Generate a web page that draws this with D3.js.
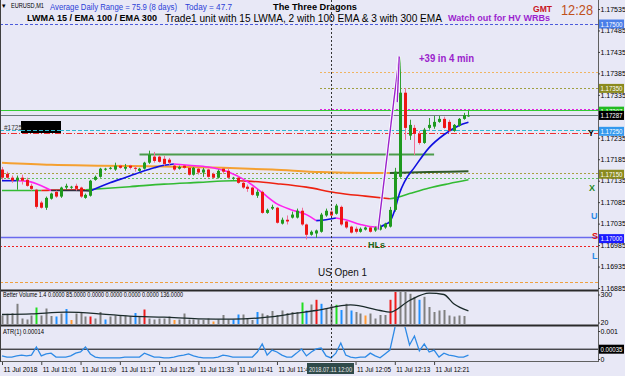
<!DOCTYPE html>
<html>
<head>
<meta charset="utf-8">
<title>EURUSD,M1 - The Three Dragons</title>
<script src="https://cdnjs.cloudflare.com/ajax/libs/d3/7.8.5/d3.min.js"></script>
<style>
  body { margin: 0; background: #e8e8f6; }
  svg { display: block; font-family: "Liberation Sans", Arial, sans-serif; }
</style>
</head>
<body>
<script>
// ---- data (1 minute bars, 10:53 .. 12:28) ----
var timeLabels = ["11 Jul 2018", "11 Jul 11:01", "11 Jul 11:09", "11 Jul 11:17", "11 Jul 11:25", "11 Jul 11:33",
                  "11 Jul 11:41", "11 Jul 11:49", "11 Jul 12:05", "11 Jul 12:13", "11 Jul 12:21"];
var timeTickBars = [0, 8, 16, 24, 32, 40, 48, 56, 72, 80, 88];

var priceTicks = [1.16885, 1.16935, 1.16985, 1.17035, 1.17085, 1.17135, 1.17185, 1.17235,
                  1.17335, 1.17385, 1.17435, 1.17485, 1.17535];

// open, high, low, close
var ohlc = [
  [1.17161, 1.17167, 1.17137, 1.17142], [1.17151, 1.17156, 1.17140, 1.17142], [1.17142, 1.17147, 1.17130, 1.17135],
  [1.17135, 1.17147, 1.17114, 1.17142], [1.17142, 1.17149, 1.17126, 1.17135], [1.17137, 1.17142, 1.17121, 1.17123],
  [1.17123, 1.17128, 1.17112, 1.17116], [1.17114, 1.17116, 1.17070, 1.17074], [1.17084, 1.17088, 1.17070, 1.17072],
  [1.17072, 1.17098, 1.17067, 1.17095], [1.17093, 1.17107, 1.17091, 1.17105], [1.17109, 1.17112, 1.17095, 1.17098],
  [1.17098, 1.17121, 1.17095, 1.17119], [1.17119, 1.17128, 1.17114, 1.17123], [1.17119, 1.17123, 1.17116, 1.17121],
  [1.17123, 1.17128, 1.17112, 1.17116], [1.17119, 1.17121, 1.17095, 1.17098], [1.17095, 1.17105, 1.17093, 1.17102],
  [1.17100, 1.17137, 1.17098, 1.17135], [1.17137, 1.17147, 1.17135, 1.17144], [1.17144, 1.17165, 1.17142, 1.17163],
  [1.17161, 1.17165, 1.17158, 1.17163], [1.17163, 1.17167, 1.17161, 1.17165], [1.17161, 1.17177, 1.17158, 1.17170],
  [1.17170, 1.17172, 1.17163, 1.17165], [1.17163, 1.17174, 1.17158, 1.17167], [1.17170, 1.17172, 1.17161, 1.17165],
  [1.17165, 1.17170, 1.17156, 1.17163], [1.17158, 1.17165, 1.17156, 1.17163], [1.17163, 1.17179, 1.17161, 1.17177],
  [1.17177, 1.17205, 1.17174, 1.17195], [1.17191, 1.17202, 1.17177, 1.17181], [1.17191, 1.17195, 1.17177, 1.17179],
  [1.17186, 1.17193, 1.17170, 1.17174], [1.17184, 1.17188, 1.17172, 1.17177], [1.17170, 1.17172, 1.17158, 1.17161],
  [1.17163, 1.17170, 1.17161, 1.17167], [1.17170, 1.17172, 1.17163, 1.17165], [1.17165, 1.17167, 1.17147, 1.17149],
  [1.17149, 1.17167, 1.17147, 1.17165], [1.17163, 1.17165, 1.17149, 1.17154], [1.17154, 1.17165, 1.17144, 1.17161],
  [1.17161, 1.17163, 1.17142, 1.17144], [1.17151, 1.17154, 1.17140, 1.17142], [1.17142, 1.17161, 1.17140, 1.17158],
  [1.17163, 1.17165, 1.17151, 1.17156], [1.17158, 1.17165, 1.17140, 1.17142], [1.17140, 1.17144, 1.17137, 1.17142],
  [1.17142, 1.17144, 1.17128, 1.17130], [1.17130, 1.17133, 1.17116, 1.17119], [1.17121, 1.17126, 1.17109, 1.17116],
  [1.17119, 1.17121, 1.17100, 1.17102], [1.17100, 1.17114, 1.17095, 1.17109], [1.17109, 1.17112, 1.17058, 1.17060],
  [1.17060, 1.17070, 1.17058, 1.17067], [1.17070, 1.17079, 1.17067, 1.17074], [1.17072, 1.17074, 1.17035, 1.17037],
  [1.17035, 1.17049, 1.17033, 1.17044], [1.17044, 1.17054, 1.17033, 1.17040], [1.17049, 1.17063, 1.17047, 1.17056],
  [1.17049, 1.17070, 1.17047, 1.17065], [1.17065, 1.17072, 1.17030, 1.17033], [1.17033, 1.17035, 1.16998, 1.17009],
  [1.17009, 1.17019, 1.17007, 1.17016], [1.17012, 1.17021, 1.17002, 1.17019], [1.17016, 1.17060, 1.17014, 1.17056],
  [1.17054, 1.17070, 1.17051, 1.17065], [1.17063, 1.17072, 1.17051, 1.17054], [1.17058, 1.17081, 1.17056, 1.17077],
  [1.17074, 1.17077, 1.17030, 1.17033], [1.17040, 1.17042, 1.17023, 1.17026], [1.17028, 1.17030, 1.17012, 1.17014],
  [1.17023, 1.17028, 1.17012, 1.17016], [1.17016, 1.17026, 1.17014, 1.17023], [1.17021, 1.17028, 1.17019, 1.17026],
  [1.17026, 1.17028, 1.17014, 1.17016], [1.17019, 1.17028, 1.17016, 1.17026], [1.17021, 1.17033, 1.17019, 1.17028],
  [1.17026, 1.17037, 1.17023, 1.17035], [1.17028, 1.17074, 1.17026, 1.17067], [1.17067, 1.17165, 1.17063, 1.17156],
  [1.17144, 1.17423, 1.17142, 1.17340], [1.17340, 1.17351, 1.17230, 1.17258], [1.17240, 1.17277, 1.17230, 1.17265],
  [1.17258, 1.17265, 1.17195, 1.17244], [1.17244, 1.17251, 1.17219, 1.17223], [1.17223, 1.17258, 1.17221, 1.17254],
  [1.17258, 1.17281, 1.17254, 1.17265], [1.17261, 1.17286, 1.17256, 1.17272], [1.17272, 1.17286, 1.17270, 1.17279],
  [1.17279, 1.17284, 1.17256, 1.17258], [1.17272, 1.17277, 1.17249, 1.17251], [1.17251, 1.17267, 1.17249, 1.17265],
  [1.17263, 1.17281, 1.17261, 1.17279], [1.17279, 1.17293, 1.17277, 1.17288], [1.17286, 1.17298, 1.17284, 1.17287]
];

// moving averages as [bar, price]; state ranges give the colour
var lwma15 = [[0,1.17135],[3,1.17135],[5,1.17134],[7,1.17128],[9,1.17118],[10,1.17112],[12,1.17112],[15,1.17112],
  [18,1.17111],[19,1.17116],[22,1.17130],[25,1.17142],[28,1.17154],[31,1.17165],[33,1.17171],[35,1.17174],
  [38,1.17171],[42,1.17167],[46,1.17156],[50,1.17133],[53,1.17107],[56,1.17081],[59,1.17067],[62,1.17056],
  [64,1.17042],[66,1.17044],[68,1.17048],[70,1.17044],[73,1.17033],[76,1.17027],[77,1.17027],[78,1.17033],
  [79,1.17040],[80,1.17067],[81,1.17107],[82,1.17133],[84,1.17166],[87,1.17212],[90,1.17242],[93,1.17263],[95,1.17271]];
var lwmaStates = [[0,3,"up"],[3,10,"down"],[10,18,"flat"],[18,35,"up"],[35,64,"down"],[64,68,"up"],[68,77,"down"],[77,95,"up"]];

var ema100 = [[0,1.17112],[8,1.17112],[10,1.17113],[17,1.17114],[26,1.17121],[33,1.17127],[40,1.17131],[47,1.17135],
  [48,1.17135],[50,1.17134],[56,1.17128],[62,1.17120],[68,1.17107],[74,1.17099],[79,1.17093],[80,1.17095],
  [83,1.17105],[87,1.17118],[91,1.17128],[95,1.17137]];
var ema100States = [[0,8,"above"],[8,17,"below"],[17,48,"above"],[48,79,"below"],[79,95,"above"]];

var ema300 = [[0,1.17177],[10,1.17172],[20,1.17170],[33,1.17168],[45,1.17165],[55,1.17161],[65,1.17155],
  [75,1.17153],[79,1.17153],[87,1.17155],[95,1.17157]];
var ema300States = [[0,79,"below"],[79,95,"above"]];

// Better Volume
var volume = [90,107,113,207,60,50,90,170,90,160,85,80,110,155,45,110,125,80,80,60,125,50,80,90,85,90,85,115,85,150,
  60,50,60,60,80,45,50,110,50,50,50,45,60,30,50,95,50,50,100,100,65,45,125,110,95,135,95,140,115,125,125,220,140,200,
  247,207,155,190,197,145,207,140,125,110,90,110,60,95,95,247,400,400,400,307,277,247,277,175,125,140,145,90,80,90,85];
var volumeKind = "nnnnnnngnnnbnbonnnrnnbnnnnnbnrnnnnnonnnnnnnonnnbbnnnbnnnnnnnngbnrbnngbnbnnonnnnrrnnnnbnnnnnnnnnn";
var volumeMA = [[0,100],[6,107],[13,123],[20,107],[26,83],[33,73],[40,57],[47,53],[54,73],[60,113],[64,140],
  [71,197],[77,140],[79,123],[83,240],[87,313],[90,300],[92,207],[95,136]];

// ATR(1)
var atr = [0.00011,0.00007,0.00007,0.00011,0.00014,0.00011,0.00014,0.00043,0.00011,0.00018,
  0.00021,0.00007,0.00007,0.00007,0.00011,0.00021,0.00025,0.00043,0.00018,0.00007,
  0.00004,0.00004,0.00004,0.00004,0.00004,0.00007,0.00007,0.00007,0.00007,0.00021,
  0.00014,0.00007,0.00007,0.00004,0.00004,0.00007,0.00011,0.00014,0.00018,0.00011,
  0.00007,0.00004,0.00004,0.00004,0.00007,0.00014,0.00011,0.00007,0.00007,0.00007,
  0.00007,0.00007,0.00025,0.00054,0.00014,0.00032,0.00025,0.00014,0.00007,0.00007,
  0.00021,0.00036,0.00011,0.00025,0.00036,0.00039,0.00011,0.00004,0.00021,0.00057,
  0.00014,0.00007,0.00004,0.00007,0.00007,0.00021,0.00011,0.00004,0.00018,0.00032,
  0.0011,0.0028,0.0012,0.00050,0.00082,0.00029,0.00054,0.00025,0.00032,0.00007,
  0.00021,0.00014,0.00011,0.00007,0.00007,0.00014];
var atrLevel = 0.00035;

// horizontal levels drawn on the price chart
var levelPrices = [1.17500, 1.17389, 1.17350, 1.17302, 1.17299, 1.17287, 1.17252, 1.17245, 1.17152, 1.17142, 1.17003, 1.16982, 1.16899];
var supportBar = [1.17196, 28, 88];            // price, from bar, to bar
var spikeLines = [[[76.6, 1.17021], [80.9, 1.17424]], [[80.9, 1.17424], [80.5, 1.17318]]];
var priceBoxes = [1.17500, 1.17350, 1.17297, 1.17287, 1.17250, 1.17150, 1.17000];

// ---- layout ----
var width = 625, height = 376, axisX = 598;
var x = d3.scaleLinear().domain([0, 95]).range([2, 2 + 95 * 4.91]);
var y = d3.scaleLinear().domain([1.16885, 1.17535]).range([288, 9]);
var yVol = d3.scaleLinear().domain([0, 300]).range([324.5, 294.5]);
var yAtr = d3.scaleLinear().domain([0, 0.001]).range([359, 331]);

var svg = d3.select("body").append("svg").attr("width", width).attr("height", height);
svg.append("rect").attr("width", width).attr("height", height).attr("fill", "#e8e8f6");

var defs = svg.append("defs");
addClip("clipMain", 0, 0, axisX, 289);
addClip("clipVol", 0, 292, axisX, 32);
addClip("clipAtr", 0, 327, axisX, 34);

function addClip(id, cx, cy, cw, ch) {
    defs.append("clipPath").attr("id", id).append("rect")
        .attr("x", cx).attr("y", cy).attr("width", cw).attr("height", ch);
}

function label(g, str, tx, ty, size, color, weight, len) {
    var t = g.append("text").attr("x", tx).attr("y", ty).text(str)
        .style("font-size", size + "px").attr("fill", color || "#000");
    if (weight) t.style("font-weight", weight);
    if (len) t.attr("textLength", len).attr("lengthAdjust", "spacingAndGlyphs");
    return t;
}

var main = svg.append("g").attr("clip-path", "url(#clipMain)");

// ---- level lines ----
var levelStyle = [
    {c: "#4b5bdc", d: "3,2", w: 1, from: 0},
    {c: "#f0b460", d: "2,2", w: 1, from: 320},
    {c: "#a0a040", d: "2,2", w: 1, from: 320},
    {c: "#e020e0", d: "2,2", w: 1, from: 320},
    {c: "#33cc33", d: null, w: 1.2, from: 0},
    {c: "#6c7c7c", d: null, w: 1.2, from: 0},
    {c: "#30b8d0", d: "4,2", w: 1, from: 0},
    {c: "#ee3030", d: "6,2,1,2", w: 1, from: 0},
    {c: "#a8a040", d: "2,2", w: 1, from: 0},
    {c: "#60c060", d: "2,2", w: 1, from: 0},
    {c: "#6a6aee", d: null, w: 1.5, from: 0},
    {c: "#ee2020", d: "2,2", w: 1, from: 0},
    {c: "#f0a040", d: "3,2", w: 1, from: 0}
];
levelPrices.forEach(function(p, i) {
    var s = levelStyle[i];
    main.append("line").attr("x1", s.from).attr("x2", axisX)
        .attr("y1", Math.round(y(p)) + 0.5).attr("y2", Math.round(y(p)) + 0.5)
        .attr("stroke", s.c).attr("stroke-width", s.w)
        .attr("stroke-dasharray", s.d);
});
main.append("line").attr("x1", x(supportBar[1])).attr("x2", x(supportBar[2]))
    .attr("y1", y(supportBar[0])).attr("y2", y(supportBar[0]))
    .attr("stroke", "#4c9c4c").attr("stroke-width", 2);

// hidden object label on the left
main.append("rect").attr("x", 21).attr("y", 121).attr("width", 40).attr("height", 12).attr("fill", "#000");
label(main, "#1725", 4, 130, 6.5, "#333");
main.append("line").attr("x1", 21).attr("x2", 61).attr("y1", Math.round(y(levelPrices[6])) + 0.5).attr("y2", Math.round(y(levelPrices[6])) + 0.5)
    .attr("stroke", "#30b8d0").attr("stroke-dasharray", "4,2");

// ---- moving averages ----
var stateColor = {up: "#1010e0", down: "#ff22ee", flat: "#303040", above: "#33bb33", below: "#ee2211"};
function drawMA(points, states, width, colors) {
    var line = d3.line().x(function(d) { return x(d[0]); }).y(function(d) { return y(d[1]); })
        .curve(d3.curveMonotoneX);
    states.forEach(function(s) {
        var seg = points.filter(function(d) { return d[0] >= s[0] && d[0] <= s[1]; });
        main.append("path").attr("d", line(seg)).attr("fill", "none")
            .attr("stroke", colors[s[2]]).attr("stroke-width", width);
    });
}
drawMA(ema300, ema300States, 2, {below: "#f5a030", above: "#2f5a2a"});
drawMA(ema100, ema100States, 1.6, stateColor);
drawMA(lwma15, lwmaStates, 1.6, stateColor);

// ---- candles ----
var bars = main.selectAll("g.bar").data(ohlc).enter().append("g").attr("class", "bar");
bars.append("line")
    .attr("x1", function(d, i) { return Math.round(x(i)) + 0.5; })
    .attr("x2", function(d, i) { return Math.round(x(i)) + 0.5; })
    .attr("y1", function(d) { return y(d[1]); })
    .attr("y2", function(d) { return y(d[2]); })
    .attr("stroke", function(d) { return d[3] >= d[0] ? "#30a030" : "#f0709a"; });
bars.append("rect")
    .attr("x", function(d, i) { return Math.round(x(i)) - 1; })
    .attr("width", 3)
    .attr("y", function(d) { return y(Math.max(d[0], d[3])); })
    .attr("height", function(d) { return Math.max(1, Math.abs(y(d[0]) - y(d[3]))); })
    .attr("fill", function(d) { return d[3] >= d[0] ? "#1f9a1f" : "#ee1515"; });

// the +39 spike trend lines
spikeLines.forEach(function(s) {
    var l = d3.line().x(function(d) { return x(d[0]); }).y(function(d) { return y(d[1]); });
    main.append("path").attr("d", l(s)).attr("stroke", "#ffffff").attr("stroke-width", 3).attr("fill", "none");
    main.append("path").attr("d", l(s)).attr("stroke", "#9a22cc").attr("stroke-width", 1.4).attr("fill", "none");
});
label(main, "+39 in 4 min", 419, 62, 10, "#9a22cc", "bold", 55);
label(main, "US Open 1", 318, 276, 11, "#111", null, 49);
label(main, "HLs", 368, 248, 8.5, "#1e6a1e", "bold", 17);

// right edge letters
label(main, "Y", 588, 136, 9, "#000", "bold");
label(main, "X", 589, 191, 9, "#1f8a1f", "bold");
label(main, "U", 591, 219, 9, "#2a8ae6", "bold");
label(main, "S", 592, 239, 9, "#e01010", "bold");
label(main, "L", 592, 259, 9, "#2a8ae6", "bold");

// ---- header ----
var head = svg.append("g");
label(head, "\u25be", 2, 8, 7, "#000");
label(head, "EURUSD,M1", 11, 8, 6.5, "#000", null, 33);
label(head, "Average Daily Range = 75.9 (8 days)", 50, 10, 8.5, "#2b40d6", null, 127);
label(head, "Today = 47.7", 185, 10, 8.5, "#2b40d6", null, 47);
label(head, "The Three Dragons", 273, 10, 9, "#000", "bold", 84);
label(head, "GMT", 533, 12, 9, "#c8141e", "bold", 19);
label(head, "12:28", 561, 15, 15, "#c0501a", null, 32);
label(head, "LWMA 15 / EMA 100 / EMA 300", 27, 21, 9, "#000", "bold", 130);
label(head, "Trade1 unit with 15 LWMA, 2 with 100 EMA & 3 with 300 EMA", 165, 21.5, 11, "#000", null, 277);
label(head, "Watch out for HV WRBs", 448, 21, 9, "#9b1fcf", "bold", 102);

// ---- volume window ----
var vol = svg.append("g").attr("clip-path", "url(#clipVol)");
var volColor = {n: "#808080", g: "#22dd22", b: "#2090ff", r: "#ee1c1c", o: "#ff9933"};
vol.selectAll("rect").data(volume).enter().append("rect")
    .attr("x", function(d, i) { return Math.round(x(i)) - 0.5; })
    .attr("width", 2)
    .attr("y", function(d) { return yVol(d); })
    .attr("height", function(d) { return yVol(0) - yVol(d); })
    .attr("fill", function(d, i) { return volColor[volumeKind[i]]; });
vol.append("path")
    .attr("d", d3.line().x(function(d) { return x(d[0]); }).y(function(d) { return yVol(d[1]); })
        .curve(d3.curveMonotoneX)(volumeMA))
    .attr("fill", "none").attr("stroke", "#1a2a2a").attr("stroke-width", 1.3);
label(svg, "Better Volume 1.4 0.0000 85.0000 0.0000 0.0000 0.0000 0.0000 136.0000", 3, 297, 6.5, "#000", null, 180);

// ---- ATR window ----
var atrG = svg.append("g").attr("clip-path", "url(#clipAtr)");
atrG.append("line").attr("x1", 0).attr("x2", axisX).attr("y1", yAtr(atrLevel)).attr("y2", yAtr(atrLevel))
    .attr("stroke", "#000").attr("stroke-width", 1);
atrG.append("path")
    .attr("d", d3.line().x(function(d, i) { return x(i); }).y(function(d) { return yAtr(d); })(atr))
    .attr("fill", "none").attr("stroke", "#2e8ae6").attr("stroke-width", 1.3);
label(svg, "ATR(1) 0.00014", 3, 334, 6.5, "#000", null, 41);

// ---- frame lines ----
svg.append("line").attr("x1", 0).attr("x2", axisX).attr("y1", 290.5).attr("y2", 290.5).attr("stroke", "#2a2a2a").attr("stroke-width", 2);
svg.append("line").attr("x1", 0).attr("x2", axisX).attr("y1", 325.5).attr("y2", 325.5).attr("stroke", "#2a2a2a").attr("stroke-width", 2);
svg.append("line").attr("x1", 0).attr("x2", axisX).attr("y1", 361.5).attr("y2", 361.5).attr("stroke", "#606060");
svg.append("line").attr("x1", 0.5).attr("x2", 0.5).attr("y1", 0).attr("y2", 362).attr("stroke", "#404040");
svg.append("line").attr("x1", axisX + 0.5).attr("x2", axisX + 0.5).attr("y1", 0).attr("y2", 362).attr("stroke", "#606060");
// US open marker (12:00 bar)
svg.append("line").attr("x1", Math.round(x(67)) + 0.5).attr("x2", Math.round(x(67)) + 0.5)
    .attr("y1", 0).attr("y2", 362).attr("stroke", "#333").attr("stroke-dasharray", "2,2");

// ---- axes ----
renderAxes();

function renderAxes() {
    var priceAxis = d3.axisRight(y).tickValues(priceTicks).tickSize(2).tickFormat(d3.format(".5f"));
    var pa = svg.append("g").attr("transform", "translate(" + axisX + ",0)").call(priceAxis);
    styleAxis(pa);

    var boxFill = ["#4a7ee8", "#8a8a1e", "#22bb22", "#000000", "#3399ee", "#8a8a1e", "#1a1aff"];
    priceBoxes.forEach(function(p, i) {
        var cy = y(p);
        svg.append("rect").attr("x", axisX + 1).attr("y", cy - 4.5).attr("width", 25).attr("height", 9).attr("fill", boxFill[i]);
        label(svg, d3.format(".5f")(p), axisX + 2.5, cy + 2.5, 7, "#fff", null, 22);
    });

    var va = svg.append("g").attr("transform", "translate(" + axisX + ",0)")
        .call(d3.axisRight(yVol).tickValues([20, 300]).tickSize(2));
    styleAxis(va);
    var aa = svg.append("g").attr("transform", "translate(" + axisX + ",0)")
        .call(d3.axisRight(yAtr).tickValues([0, 0.001]).tickSize(2)
            .tickFormat(function(d) { return d === 0 ? "0" : "0.001"; }));
    styleAxis(aa);
    aa.selectAll("text").attr("textLength", null);
    svg.append("rect").attr("x", axisX + 1).attr("y", yAtr(atrLevel) - 4.5).attr("width", 25).attr("height", 9).attr("fill", "#000");
    label(svg, "0.00035", axisX + 2.5, yAtr(atrLevel) + 2.5, 7, "#fff", null, 22);

    var timeAxis = d3.axisBottom(x).tickValues(timeTickBars).tickSize(3)
        .tickFormat(function(d, i) { return timeLabels[i]; });
    var ta = svg.append("g").attr("transform", "translate(0,362)").call(timeAxis);
    styleAxis(ta);
    ta.selectAll("text").attr("text-anchor", "start").attr("x", 1).attr("y", 6).attr("dy", "0.5em")
        .attr("textLength", 34).attr("lengthAdjust", "spacingAndGlyphs");

    // crosshair time box at 12:00
    var bx = Math.round(x(67));
    svg.append("rect").attr("x", bx - 24).attr("y", 363).attr("width", 47).attr("height", 11).attr("fill", "#2f4a4a");
    label(svg, "2018.07.11 12:00", bx - 22, 371.5, 7, "#e8e8e8", null, 43);
}

function styleAxis(g) {
    g.select(".domain").remove();
    g.selectAll("line").attr("stroke", "#404040");
    g.selectAll("text").style("font-size", "7px").attr("fill", "#000").attr("x", 2.5)
        .style("font-family", "'Liberation Sans', Arial, sans-serif");
}
</script>
</body>
</html>
